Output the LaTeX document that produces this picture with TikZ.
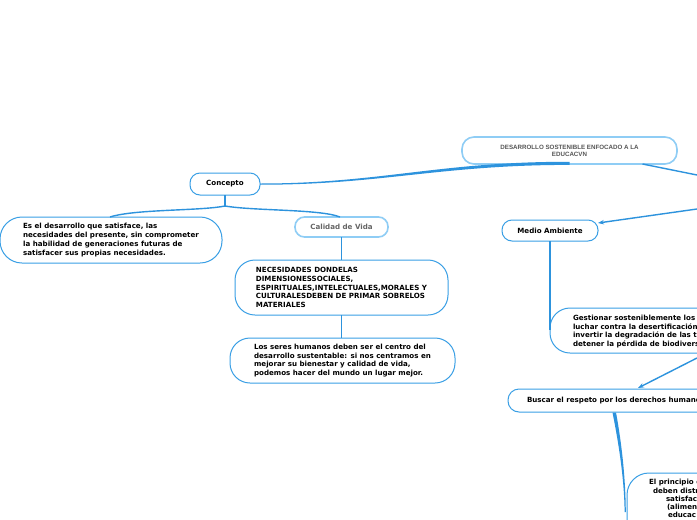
\documentclass[tikz,border=0pt]{standalone}
\usepackage{fontspec}
\setmainfont{DejaVu Sans}
\newfontfamily\titlefont{Liberation Sans}
\usetikzlibrary{arrows.meta,calc}
\definecolor{nodeblue}{HTML}{3A9FE5}
\definecolor{lightblue}{HTML}{8FCDF5}
\definecolor{linkblue}{HTML}{2D93DD}
\definecolor{graytext}{HTML}{666666}
\definecolor{titlegray}{HTML}{555555}
\begin{document}
\begin{tikzpicture}[x=1pt,y=-1pt,
  every node/.style={inner sep=0pt, outer sep=0pt},
  bx/.style={draw=nodeblue, line width=1pt, fill=white},
  lbx/.style={draw=lightblue, line width=1.6pt, fill=white},
  bodytext/.style={font=\fontsize{7.1}{8.8}\selectfont\bfseries, align=left, text=black},
  link/.style={draw=linkblue, line width=1.4pt},
  arr/.style={link, -{Stealth[length=6pt,width=4.5pt]}},
]
\useasboundingbox (0,0) rectangle (697,520);
\clip (0,0) rectangle (697,520);
\fill[white] (0,0) rectangle (697,520);

\coordinate (edgeA) at (697,175);
\coordinate (edgeB) at (697,209);
\coordinate (edgeC) at (697,358);

% nodes
\node[lbx, rounded corners=12pt, minimum width=215pt, minimum height=27pt,
  font=\titlefont\bfseries\fontsize{6.2}{7.2}\selectfont, text=titlegray, align=center]
  (title) at (569.5,150.5) {DESARROLLO SOSTENIBLE ENFOCADO A LA\\EDUCACVN};

\node[bx, rounded corners=10pt, minimum width=70pt, minimum height=22pt, bodytext]
  (concepto) at (225,184) {Concepto};

\node[bx, rounded corners=22pt, minimum width=222pt, minimum height=46pt, bodytext]
  (esel) at (111,240) {Es el desarrollo que satisface, las\\necesidades del presente, sin comprometer\\la habilidad de generaciones futuras de\\satisfacer sus propias necesidades.};

\node[lbx, rounded corners=9.5pt, minimum width=93pt, minimum height=20pt, bodytext, text=graytext]
  (calidad) at (341.5,227) {Calidad de Vida};

\node[bx, rounded corners=20pt, minimum width=213pt, minimum height=55pt, bodytext]
  (neces) at (341.5,287.5) {NECESIDADES DONDELAS\\DIMENSIONESSOCIALES,\\ESPIRITUALES,INTELECTUALES,MORALES Y\\CULTURALESDEBEN DE PRIMAR SOBRELOS\\MATERIALES};

\node[bx, rounded corners=20pt, minimum width=225pt, minimum height=45pt, bodytext]
  (seres) at (342.5,360.5) {Los seres humanos deben ser el centro del\\desarrollo sustentable: si nos centramos en\\mejorar su bienestar y calidad de vida,\\podemos hacer del mundo un lugar mejor.};

\node[bx, rounded corners=10pt, minimum width=96pt, minimum height=21pt, bodytext]
  (medio) at (550,230.5) {Medio Ambiente};

\node[bx, rounded corners=20pt, minimum width=210pt, minimum height=45pt]
  (gest) at (655,330.5) {};
\node[bodytext, anchor=west] (gesttext) at (573,331.5)
  {Gestionar sosteniblemente los b\\luchar contra la desertificación,\\invertir la degradación de las ti\\detener la pérdida de biodivers};

\node[bx, rounded corners=11pt, minimum width=252pt, minimum height=23pt]
  (buscar) at (634,400.5) {};
\node[bodytext, anchor=west] (buscartext) at (527,401) {Buscar el respeto por los derechos humano};

\node[bx, rounded corners=22pt, minimum width=163pt, minimum height=87pt]
  (princ) at (708.5,516.5) {};
\node[bodytext, anchor=west] (p1) at (649,483) {El principio d};
\node[bodytext, anchor=west] (p2) at (653,491) {deben distr};
\node[bodytext, anchor=west] (p3) at (666,499) {satisfac};
\node[bodytext, anchor=west] (p4) at (667,507) {(alimen};
\node[bodytext, anchor=west] (p5) at (668,515) {educac};

% Concepto -> title (tapered)
\fill[linkblue] ($(concepto.east)+(0,-0.5)$) .. controls (380,183.5) and (440,161.5) .. ($(title.south)+(0,-2.2)$)
  -- ($(title.south)+(0,0.9)$) .. controls (440,164.9) and (380,184.9) .. ($(concepto.east)+(0,0.7)$) -- cycle;

% title -> off right
\draw[link] ($(title.south)+(73,0)$) -- (edgeA);

% Concepto children
\draw[link, line width=1.9pt] (concepto.south) -- ($(concepto.south)+(0,11)$);
\draw[link] ($(concepto.south)+(0,11)$) .. controls (200,211) and (135,209) .. ($(esel.north)+(-1,0)$);
\draw[link] ($(concepto.south)+(0,11)$) .. controls (255,211) and (320,209) .. ($(calidad.north)+(-1.5,0)$);

% Calidad chain
\draw[link, line width=1.9pt] (calidad.south) -- (neces.north);
\draw[link, line width=1.9pt] (neces.south) -- ($(seres.north)+(-1,0)$);

% right side
\draw[arr] (edgeB) -- ($(medio.north east)+(0,3)$);
\draw[link, line width=1.9pt] (medio.south) -- (550,330);
\draw[arr] (edgeC) -- ($(buscar.north)+(4,-1)$);

% Buscar -> principio (tapered)
\fill[linkblue] (612.5,412.5) .. controls (619,445) and (624.3,480) .. (624.6,512)
  -- (625.8,512) .. controls (625.6,480) and (622,445) .. (616,412.5) -- cycle;
\end{tikzpicture}
\end{document}
